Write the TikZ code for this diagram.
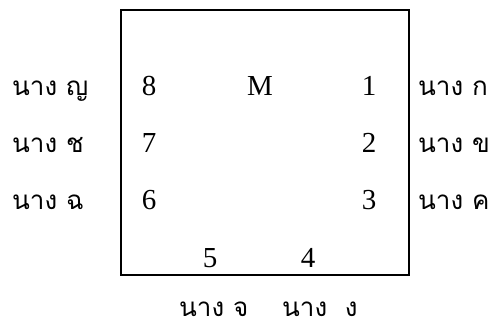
\documentclass[tikz,border=0pt]{standalone}
\usepackage{fontspec}
\setmainfont{Liberation Serif}
\newfontfamily\thaifont[Script=Thai]{Loma}
\usepackage{tikz}
\usetikzlibrary{positioning}

\begin{document}
\begin{tikzpicture}[x=1pt, y=-1pt, font=\fontsize{29}{32}\selectfont,
    num/.style={anchor=base, inner sep=0pt},
    nang/.style={anchor=base west, inner sep=0pt, font=\fontsize{26}{30}\selectfont\thaifont},
    frame/.style={draw, line width=1.6pt}]
    \useasboundingbox (0,0) rectangle (489,329);
    \draw[frame] (121,10) rectangle (409,275);
    % numbers inside the box
    \node[num] (n8) at (149,95) {8};
    \node[num] (m) at (260,95) {M};
    \node[num] (n1) at (369,95) {1};
    \node[num] (n7) at (149,152) {7};
    \node[num] (n2) at (369,152) {2};
    \node[num] (n6) at (149,209) {6};
    \node[num] (n3) at (369,209) {3};
    \node[num] (n5) at (210,267) {5};
    \node[num] (n4) at (308,267) {4};
    % names
    \node[nang] (j) at (12,95) {นาง ญ};
    \node[nang] (ch) at (12,152) {นาง ช};
    \node[nang] (cho) at (12,209) {นาง ฉ};
    \node[nang] (k) at (418,95) {นาง ก};
    \node[nang] (kh) at (418,152) {นาง ข};
    \node[nang] (kk) at (418,209) {นาง ค};
    \node[nang] (c) at (179,316) {นาง จ};
    \node[nang] (ng) at (282,316) {นาง~~ง};
\end{tikzpicture}
\end{document}
